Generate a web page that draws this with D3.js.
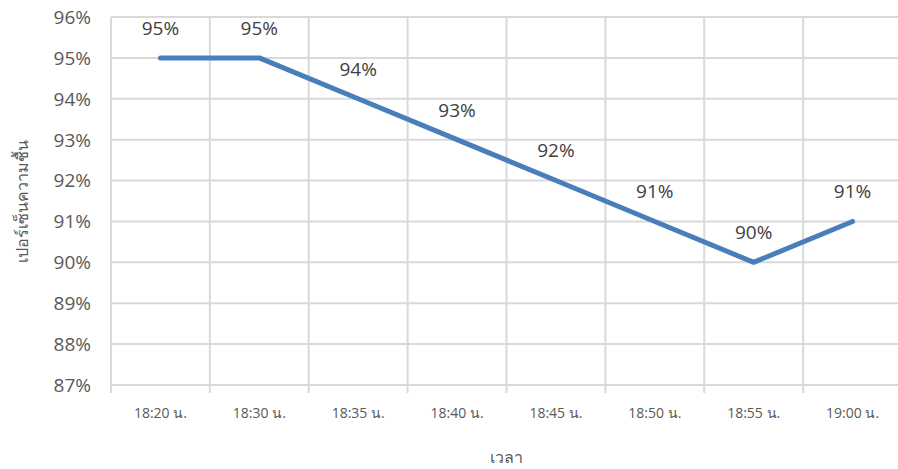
<!DOCTYPE html>
<html>
<head>
<meta charset="utf-8">
<script src="https://cdn.jsdelivr.net/npm/d3@7"></script>
<style>
  html, body { margin: 0; padding: 0; background: #fff; }
  svg { display: block; }
</style>
</head>
<body>
<svg id="chart" width="898" height="469"></svg>
<script>
// Humidity readings over time
const times = ["18:20 น.", "18:30 น.", "18:35 น.", "18:40 น.", "18:45 น.", "18:50 น.", "18:55 น.", "19:00 น."];
const humidity = [95, 95, 94, 93, 92, 91, 90, 91];
const yTicks = [87, 88, 89, 90, 91, 92, 93, 94, 95, 96];
const xTitle = "เวลา";
const yTitle = "เปอร์เซ็นความชื้น";

const svg = d3.select("#chart");
const margin = { left: 111, right: -4, top: 17, bottom: 84 };
const W = 898, H = 469;

const x = d3.scaleBand()
  .domain(times)
  .range([margin.left, W - margin.right])
  .paddingInner(0).paddingOuter(0);

const y = d3.scaleLinear()
  .domain([87, 96])
  .range([H - margin.bottom, margin.top]);

const grid = "#d9d9d9";
const font = "'Open Sans', 'Noto Sans', sans-serif";

// horizontal gridlines
svg.append("g")
  .selectAll("line")
  .data(yTicks)
  .join("line")
  .attr("x1", margin.left).attr("x2", W - margin.right)
  .attr("y1", d => y(d)).attr("y2", d => y(d))
  .attr("stroke", grid).attr("stroke-width", 2);

// vertical category boundaries, extending below the axis as ticks
const bounds = times.map(t => x(t)).concat([x(times[times.length - 1]) + x.bandwidth()]);
svg.append("g")
  .selectAll("line")
  .data(bounds)
  .join("line")
  .attr("x1", d => d).attr("x2", d => d)
  .attr("y1", margin.top).attr("y2", y(87) + 8)
  .attr("stroke", grid).attr("stroke-width", 2);

// y tick labels
svg.append("g")
  .selectAll("text")
  .data(yTicks)
  .join("text")
  .attr("x", 91)
  .attr("y", d => y(d))
  .attr("dy", "0.36em")
  .attr("text-anchor", "end")
  .attr("font-family", font)
  .attr("font-size", 19)
  .attr("fill", "#595959")
  .text(d => d + "%");

// x tick labels
svg.append("g")
  .selectAll("text")
  .data(times)
  .join("text")
  .attr("x", d => x(d) + x.bandwidth() / 2)
  .attr("y", 418)
  .attr("text-anchor", "middle")
  .attr("font-family", font)
  .attr("font-size", 14)
  .attr("fill", "#595959")
  .text(d => d);

// axis titles
svg.append("text")
  .attr("x", (margin.left + x(times[times.length - 1]) + x.bandwidth()) / 2)
  .attr("y", 463)
  .attr("text-anchor", "middle")
  .attr("font-family", font)
  .attr("font-size", 16)
  .attr("fill", "#595959")
  .text(xTitle);

svg.append("text")
  .attr("transform", `translate(28, ${(y(87) + y(96)) / 2}) rotate(-90)`)
  .attr("text-anchor", "middle")
  .attr("font-family", font)
  .attr("font-size", 16)
  .attr("fill", "#595959")
  .text(yTitle);

// line
const data = times.map((t, i) => ({ t, v: humidity[i] }));
const line = d3.line()
  .x(d => x(d.t) + x.bandwidth() / 2)
  .y(d => y(d.v));

svg.append("path")
  .datum(data)
  .attr("d", line)
  .attr("fill", "none")
  .attr("stroke", "#4a7ebb")
  .attr("stroke-width", 5)
  .attr("stroke-linejoin", "round")
  .attr("stroke-linecap", "round");

// value labels
svg.append("g")
  .selectAll("text")
  .data(data)
  .join("text")
  .attr("x", d => x(d.t) + x.bandwidth() / 2)
  .attr("y", d => y(d.v) - 30)
  .attr("dy", "0.36em")
  .attr("text-anchor", "middle")
  .attr("font-family", font)
  .attr("font-size", 19)
  .attr("fill", "#404040")
  .text(d => d.v + "%");
</script>
</body>
</html>
